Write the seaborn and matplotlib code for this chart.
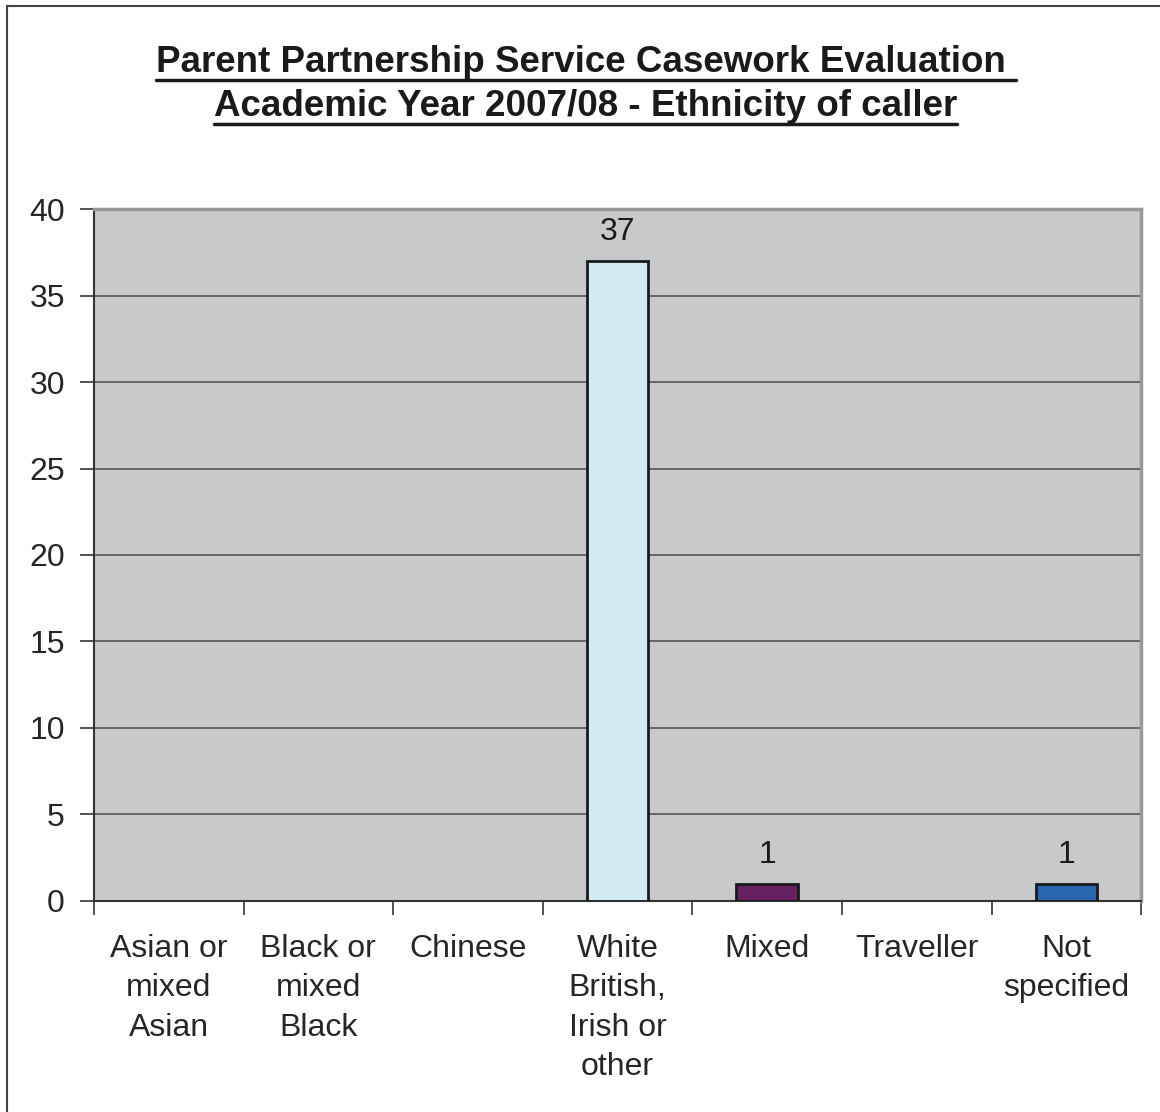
import seaborn as sns
import matplotlib.pyplot as plt
import pandas as pd
from matplotlib.patches import Rectangle

categories = ["Asian or\nmixed\nAsian", "Black or\nmixed\nBlack", "Chinese",
              "White\nBritish,\nIrish or\nother", "Mixed", "Traveller", "Not\nspecified"]
values = [0, 0, 0, 37, 1, 0, 1]
bar_colors = ["#9999FF", "#993366", "#FFFFCC", "#D3EBF2", "#65205F", "#FF8080", "#2A65B0"]

title_lines = ["Parent Partnership Service Casework Evaluation ",
               "Academic Year 2007/08 - Ethnicity of caller"]

sns.set_style("white")
plt.rcParams['font.family'] = ['Liberation Sans', 'DejaVu Sans']

df = pd.DataFrame({"cat": categories, "val": values})

fig = plt.figure(figsize=(11.6, 11.12), dpi=100)
ax = fig.add_axes([0.081, 0.1898, 0.9027, 0.6222])
ax.set_facecolor("#C8C9CB")

sns.barplot(data=df, x="cat", y="val", hue="cat", palette=dict(zip(categories, bar_colors)),
            saturation=1, width=0.41, edgecolor="#1a1a1a", linewidth=2, legend=False,
            ax=ax, zorder=3)

for p in ax.patches:
    if p.get_height() == 0:
        p.set_visible(False)

for c in ax.containers:
    labels = [f"{v:g}" if v > 0 else "" for v in c.datavalues]
    ax.bar_label(c, labels=labels, padding=10, fontsize=23, color="#1a1a1a")

ax.set_ylim(0, 40)
ax.set_xlim(-0.5, len(categories) - 0.5)
ax.set_yticks(range(0, 41, 5))
ax.yaxis.grid(True, color="#555555", linewidth=1.2, zorder=0)
ax.set_axisbelow(True)

ax.set_xticks(range(len(categories)))
ax.set_xticklabels(categories, fontsize=23, linespacing=1.40, va="top")
ax.set_xticks([i - 0.5 for i in range(len(categories) + 1)], minor=True)
ax.tick_params(axis="x", which="major", bottom=True, length=0, pad=24)
ax.tick_params(axis="x", which="minor", bottom=True, length=10, width=1.2, color="#333333", direction="out")
ax.tick_params(axis="y", left=True, length=10, width=1.2, color="#333333", direction="out",
               labelsize=23, pad=11)

ax.set_xlabel("")
ax.set_ylabel("")

for s in ["left", "bottom"]:
    ax.spines[s].set_color("#333333")
    ax.spines[s].set_linewidth(1.5)
for s in ["top", "right"]:
    ax.spines[s].set_color("#999999")
    ax.spines[s].set_linewidth(2.5)

# title, two lines, underlined
fig.canvas.draw()
renderer = fig.canvas.get_renderer()
for ypix, line in zip([63, 107], title_lines):
    t = fig.text(0.505, 1 - ypix / 1112, line, ha="center", va="center", fontsize=26.5,
                 fontweight="bold", color="#1a1a1a")
    bb = t.get_window_extent(renderer)
    uy = bb.y0 + 1
    fig.add_artist(plt.Line2D([bb.x0 / 1160, bb.x1 / 1160], [uy / 1112, uy / 1112],
                              color="#1a1a1a", linewidth=2.5))

fig.add_artist(Rectangle((7 / 1160, -0.01), 1.0, 1 - 6 / 1112 + 0.01, transform=fig.transFigure,
                         fill=False, edgecolor="#444444", linewidth=1.5))

fig.savefig("out.png", dpi=100)
